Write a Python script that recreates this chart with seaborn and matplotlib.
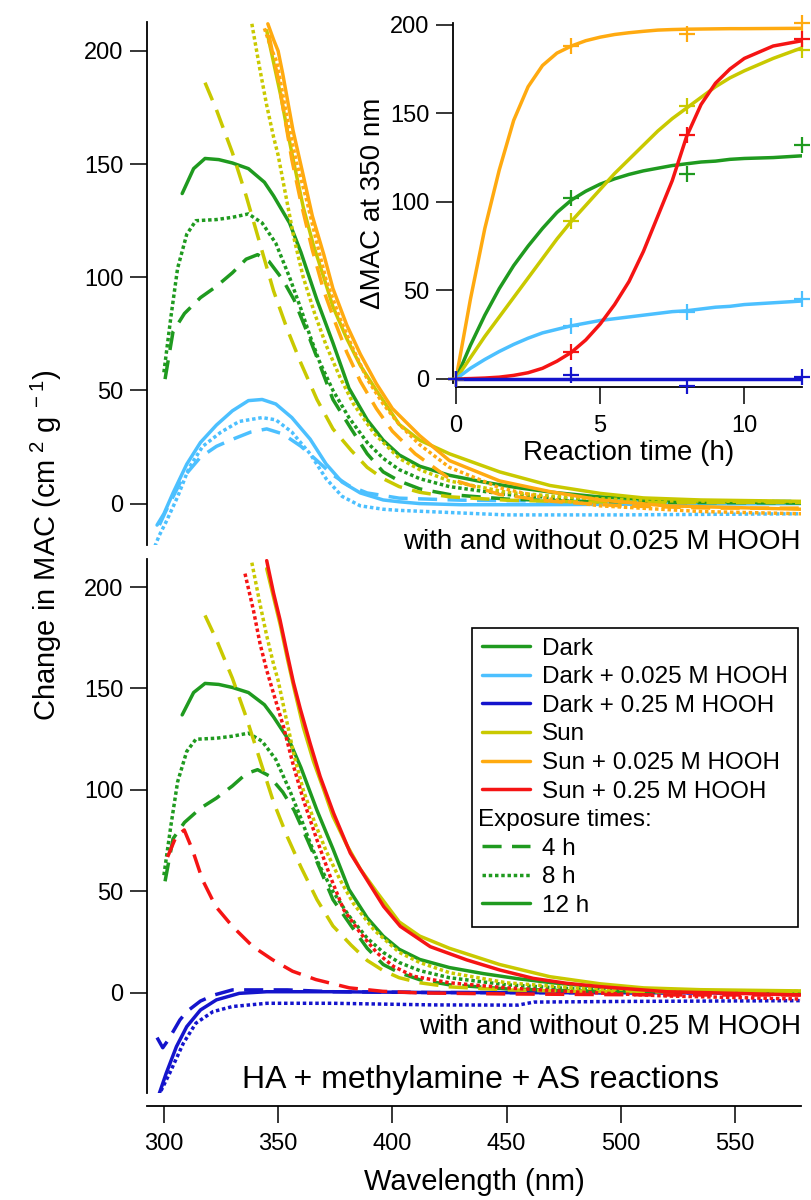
import matplotlib
matplotlib.use("Agg")
import matplotlib.pyplot as plt
from matplotlib.lines import Line2D
import seaborn as sns

# ---- spectra: change in MAC vs wavelength (nm) ----
# Dark
dark4_wl = [300.5, 304, 309, 316, 323, 330, 336, 341, 346, 352, 357, 363, 368, 374, 382, 389, 396, 403, 412, 425, 450, 480, 520, 579]
dark4 = [55, 76, 84, 91, 96, 102, 108, 110, 107, 99, 90, 75, 62, 46, 33, 22, 14, 10, 6.5, 4, 2, 1, 0.5, 0.3]
dark8_wl = [300, 301, 303, 306, 310, 314, 323, 330, 337, 343, 349, 355, 360, 364, 368, 374, 381, 389, 396, 403, 412, 425, 450, 480, 520, 579]
dark8 = [58, 66, 82, 104, 119, 125, 125.5, 126.5, 128, 124, 115, 100, 86, 74, 63, 50, 38, 27, 20, 15, 11, 7.5, 4, 2, 1, 0.5]
dark12_wl = [308, 313, 318, 324, 330, 337, 344, 348, 355, 360, 367, 374, 381, 389, 396, 403, 412, 425, 440, 455, 470, 490, 510, 535, 555, 579]
dark12 = [137, 148, 152.5, 152, 150.5, 148, 142, 136, 124, 111, 90, 71, 51, 37, 28, 21.5, 16.5, 12.5, 9.5, 7, 5, 3, 2, 1, 0.6, 0.4]

# Dark + 0.025 M HOOH
dk025_4_wl = [298, 301, 308, 316, 323, 330, 338, 345, 352, 360, 367, 374, 381, 389, 403, 430, 480, 579]
dk025_4 = [-9.5, -3, 11, 20.5, 25.3, 28.4, 31.6, 33, 30.8, 25.3, 19, 12.6, 7.9, 4.7, 2.4, 1.5, 1, 1]
dk025_8_wl = [296, 298, 301, 306, 311, 317, 325, 333, 343, 349, 356, 364, 371, 378, 386, 396, 403, 450, 500, 579]
dk025_8 = [-19, -14, -8, 3, 15.8, 25.3, 31.6, 36.3, 38, 37, 31.6, 22, 11, 3.2, -1, -2.5, -3, -5, -5, -4.5]
dk025_12_wl = [297, 300, 304, 310, 316, 323, 330, 337, 343, 349, 356, 364, 371, 378, 386, 396, 403, 412, 430, 460, 500, 579]
dk025_12 = [-9.5, -4.5, 4.7, 17.4, 27, 34.7, 41, 45.5, 46, 44, 38, 28.5, 17.5, 9.5, 4.7, 1.6, 0.8, 0, -0.5, -0.5, -0.3, 0]

# Dark + 0.25 M HOOH
dk25_4_wl = [297, 299.5, 302, 307, 310, 316, 322, 330, 341, 354, 374, 418, 579]
dk25_4 = [-22, -27, -23, -13.3, -9.2, -4, -1, 1.5, 1.5, 1.5, 0.6, 0.2, 0]
dk25_8_wl = [297.5, 302.5, 308.5, 314, 321.5, 330, 345, 374, 418, 455, 462, 500, 579]
dk25_8 = [-51, -39.6, -24.8, -14.9, -9.2, -6.7, -5.1, -5.1, -5.9, -6, -4.5, -4.2, -3.8]
dk25_12_wl = [298, 301, 305.5, 310, 316, 323, 333, 345, 374, 418, 579]
dk25_12 = [-49.5, -39.6, -26.4, -16.6, -8.4, -3.4, -0.2, 0.6, 0.6, 0.2, 0]

# Sun
sun4_wl = [318, 323, 330, 336, 342, 348, 354, 360, 367, 374, 382, 389, 396, 403, 412, 425, 450, 480, 520, 579]
sun4 = [186, 174, 155, 136, 115, 94, 77, 62, 46, 33, 23.5, 16, 11, 7.5, 5, 3, 1.5, 0.8, 0.5, 0.5]
sun8_wl = [338.5, 342, 345, 348, 350, 353, 357, 361, 366, 371, 377, 383, 392, 403, 412, 425, 450, 480, 520, 579]
sun8 = [212, 192, 176, 162, 154, 138, 117, 100, 84, 70, 56, 44, 31, 20, 15, 10, 5, 2.5, 1.2, 0.8]
sun12_wl = [345, 348, 351, 354, 357, 361, 365.5, 370, 374, 380, 386, 393, 403, 412, 425, 447, 469, 491, 510, 535, 579]
sun12 = [209, 195, 181, 165, 150, 131, 114, 100, 87, 73, 61, 50, 35, 28, 22, 14, 8, 4.5, 2.5, 1.6, 1]

# Sun + 0.025 M HOOH
or4_wl = [346, 348, 350, 353, 356, 360, 365, 370, 375, 380, 386, 393, 400, 410, 425, 447, 470, 500, 540, 579]
or4 = [207, 197, 188, 170, 152, 133, 112, 94, 80, 67, 54, 42, 32, 22, 11, 4, 1, -1, -2, -2]
or8_wl = [344, 347, 349.5, 354, 358, 362.5, 367, 371, 377, 383, 389, 396, 403, 412, 425, 447, 469, 491, 535, 579]
or8 = [210, 201, 195, 170, 151, 134, 115, 99, 82, 68, 55, 44, 35, 26, 16, 7, 2, -1, -3.5, -4.5]
or12_wl = [345.5, 348, 350, 352, 356.5, 361, 365, 370, 374, 380, 386, 393, 400, 412, 425, 447, 469, 491, 520, 579]
or12 = [212, 205, 200, 190, 165, 145, 127, 110, 95, 79, 66, 53, 42, 30, 19, 10, 5.3, 1.6, -1, -2.5]

# Sun + 0.25 M HOOH
red4_wl = [301.6, 305.3, 308.9, 312.5, 316.9, 322.7, 330, 338.8, 347.5, 356.3, 366.5, 381.2, 395.8, 412, 450, 520, 579]
red4 = [67, 77, 80.3, 70.5, 55.7, 42.6, 32.8, 23, 16.4, 10.7, 6.6, 2.5, 0.8, 0, -0.5, -1, -1]
red8_wl = [335.5, 339.2, 342.1, 345, 348, 352.4, 356.8, 361.1, 367, 372.8, 378.7, 386, 393.3, 400.6, 409.4, 425, 450, 480, 520, 579]
red8 = [206.6, 188.5, 172, 159, 147.5, 131, 111.5, 95, 75.4, 57.4, 41, 29.5, 19.7, 13, 8.2, 5, 2.5, 0.5, -1.5, -3]
red12_wl = [345, 348, 350.8, 353.8, 356.7, 359.7, 364, 368.4, 374.3, 381.6, 388.9, 396.2, 403.5, 416.6, 432.5, 447, 461.6, 476, 491, 520, 579]
red12 = [213, 197, 184, 168, 153, 140, 123, 106.6, 88.5, 68.9, 55.7, 42.6, 32.8, 22.8, 16.3, 11.3, 7.2, 4.8, 3.1, 0.6, -1]

# ---- inset: change in MAC at 350 nm vs reaction time (h) ----
time_pts = [0, 4, 8, 12]
pts_dark = [0, 102, 116, 132]
pts_dk025 = [0, 30, 38, 45]
pts_dk25 = [0, 2, -4, 1]
pts_sun = [0, 89, 154, 186]
pts_or = [0, 188, 195, 201]
pts_red = [0, 15, 138, 192]

fit_t = [0, 0.5, 1, 1.5, 2, 2.5, 3, 3.5, 4, 4.5, 5, 5.5, 6, 6.5, 7, 7.5, 8, 8.5, 9, 9.5, 10, 11, 12]
fit_dark = [0, 19, 36, 51, 64, 75, 85, 94, 101, 106, 110, 113, 115.5, 117.5, 119, 120.5, 121.5, 122.5, 123, 124, 124.5, 125, 126]
fit_dk025 = [0, 6, 11, 15.5, 19.5, 23, 26, 28, 30, 31.5, 33, 34, 35, 36, 37, 38, 38.5, 39.5, 40.5, 41, 42, 43, 44]
fit_dk25 = [0] * 23
fit_sun = [0, 12, 24, 35, 46, 57, 68, 79, 89, 98, 107, 116, 124, 132, 140, 147, 153, 159, 165, 170, 174, 181, 187]
fit_or = [0, 45, 85, 118, 146, 165, 177, 184, 188, 191, 193, 194.5, 195.5, 196.3, 197, 197.3, 197.5, 197.6, 197.7, 197.8, 197.8, 197.9, 198]
fit_red = [0, 0.2, 0.5, 1, 2, 3.5, 6, 10, 15, 22, 31, 42, 55, 72, 92, 112, 137, 155, 167, 175, 181, 188, 191]

# colours
GREEN = "#1f9a1f"
LIGHTBLUE = "#4cc0ff"
BLUE = "#1414cc"
SUN = "#c9c900"
ORANGE = "#ffaa10"
RED = "#f51414"

DASH = (0, (5.5, 3))
DOT = (0, (1, 0.8))
SOLID = "-"
LW = 2.5

sns.set_style("ticks")
plt.rcParams["font.family"] = ["Liberation Sans", "DejaVu Sans"]
plt.rcParams["mathtext.fontset"] = "custom"
plt.rcParams["mathtext.rm"] = "Liberation Sans"
plt.rcParams["mathtext.it"] = "Liberation Sans:italic"
plt.rcParams["axes.edgecolor"] = "black"
plt.rcParams["xtick.color"] = "black"
plt.rcParams["ytick.color"] = "black"
plt.rcParams["text.color"] = "black"
plt.rcParams["axes.labelcolor"] = "black"

W, H = 812, 1200
fig = plt.figure(figsize=(W / 100, H / 100), dpi=100)
ax_top = fig.add_axes([147 / W, 1 - 545 / H, 654 / W, 523 / H])
ax_bot = fig.add_axes([147 / W, 1 - 1093 / H, 654 / W, 534 / H])
ax_in = fig.add_axes([456 / W, 1 - 383 / H, 346 / W, 360 / H])


def curve(ax, x, y, color, ls):
    sns.lineplot(x=x, y=y, ax=ax, color=color, linestyle=ls, lw=LW,
                 errorbar=None, sort=False)


# top panel: with and without 0.025 M HOOH
for wl, v, c, ls in [
    (dk025_4_wl, dk025_4, LIGHTBLUE, DASH), (dk025_8_wl, dk025_8, LIGHTBLUE, DOT),
    (dk025_12_wl, dk025_12, LIGHTBLUE, SOLID),
    (dark4_wl, dark4, GREEN, DASH), (dark8_wl, dark8, GREEN, DOT), (dark12_wl, dark12, GREEN, SOLID),
    (sun4_wl, sun4, SUN, DASH), (sun8_wl, sun8, SUN, DOT), (sun12_wl, sun12, SUN, SOLID),
    (or4_wl, or4, ORANGE, DASH), (or8_wl, or8, ORANGE, DOT), (or12_wl, or12, ORANGE, SOLID),
]:
    curve(ax_top, wl, v, c, ls)

# bottom panel: with and without 0.25 M HOOH
for wl, v, c, ls in [
    (dk25_4_wl, dk25_4, BLUE, DASH), (dk25_8_wl, dk25_8, BLUE, DOT), (dk25_12_wl, dk25_12, BLUE, SOLID),
    (dark4_wl, dark4, GREEN, DASH), (dark8_wl, dark8, GREEN, DOT), (dark12_wl, dark12, GREEN, SOLID),
    (sun4_wl, sun4, SUN, DASH), (sun8_wl, sun8, SUN, DOT), (sun12_wl, sun12, SUN, SOLID),
    (red4_wl, red4, RED, DASH), (red8_wl, red8, RED, DOT), (red12_wl, red12, RED, SOLID),
]:
    curve(ax_bot, wl, v, c, ls)

for ax in (ax_top, ax_bot):
    ax.set_xlim(292.6, 578.9)
    ax.set_yticks([0, 50, 100, 150, 200])
    ax.spines["top"].set_visible(False)
    ax.spines["right"].set_visible(False)
    ax.spines["left"].set_linewidth(1.3)
    ax.spines["bottom"].set_linewidth(1.3)
    ax.tick_params(direction="out", length=12, width=1.1, labelsize=17, pad=5)
    ax.set_facecolor("none")
    ax.set_xlabel("")
    ax.set_ylabel("")

ax_top.set_ylim(-18.3, 212.8)
ax_top.spines["bottom"].set_visible(False)
ax_top.tick_params(axis="x", bottom=False, labelbottom=False)

ax_bot.set_ylim(-49.3, 213.8)
ax_bot.spines["bottom"].set_position(("outward", 9))
ax_bot.set_xticks([300, 350, 400, 450, 500, 550])
ax_bot.tick_params(axis="x", pad=8)
ax_bot.set_xlabel("Wavelength (nm)", fontsize=21, labelpad=9)

# inset
for t, v, c in [(fit_or, pts_or, ORANGE), (fit_dark, pts_dark, GREEN), (fit_sun, pts_sun, SUN),
                (fit_dk025, pts_dk025, LIGHTBLUE), (fit_red, pts_red, RED), (fit_dk25, pts_dk25, BLUE)]:
    sns.lineplot(x=fit_t, y=t, ax=ax_in, color=c, lw=LW, errorbar=None, sort=False)
    sns.scatterplot(x=time_pts, y=v, ax=ax_in, color=c, marker="+", s=130, linewidth=1.6,
                    zorder=5, clip_on=False)

ax_in.set_xlim(0, 12)
ax_in.set_ylim(-2.3, 201)
ax_in.set_xticks([0, 5, 10])
ax_in.set_yticks([0, 50, 100, 150, 200])
ax_in.set_facecolor("none")
ax_in.spines["top"].set_visible(False)
ax_in.spines["right"].set_visible(False)
ax_in.spines["left"].set_position(("outward", 2))
ax_in.spines["bottom"].set_position(("outward", 3))
ax_in.spines["left"].set_linewidth(1.3)
ax_in.spines["bottom"].set_linewidth(1.3)
ax_in.tick_params(direction="out", length=12, width=1.1, labelsize=17, pad=5)
ax_in.tick_params(axis="x", pad=8)
ax_in.set_xlabel("Reaction time (h)", fontsize=20, labelpad=2)
ax_in.set_ylabel("\u0394MAC at 350 nm", fontsize=20, labelpad=3)

# texts
fig.text(46 / W, 1 - 545 / H, r"Change in MAC (cm$^{\,\,2}$ g$^{\,\,-1}$)", rotation=90,
         ha="center", va="center", fontsize=21)
fig.text(801 / W, 1 - 542 / H, "with and without 0.025 M HOOH", ha="right", va="center", fontsize=20)
fig.text(801 / W, 1 - 1027 / H, "with and without 0.25 M HOOH", ha="right", va="center", fontsize=20)
fig.text(480 / W, 1 - 1080 / H, "HA + methylamine + AS reactions", ha="center", va="center", fontsize=23)

# legend
handles = [
    Line2D([], [], color=GREEN, lw=LW),
    Line2D([], [], color=LIGHTBLUE, lw=LW),
    Line2D([], [], color=BLUE, lw=LW),
    Line2D([], [], color=SUN, lw=LW),
    Line2D([], [], color=ORANGE, lw=LW),
    Line2D([], [], color=RED, lw=LW),
    Line2D([], [], color="none", lw=0),
    Line2D([], [], color=GREEN, lw=LW, linestyle=DASH),
    Line2D([], [], color=GREEN, lw=LW, linestyle=DOT),
    Line2D([], [], color=GREEN, lw=LW),
]
labels = ["Dark", "Dark + 0.025 M HOOH", "Dark + 0.25 M HOOH", "Sun", "Sun + 0.025 M HOOH",
          "Sun + 0.25 M HOOH", "Exposure times:", "4 h", "8 h", "12 h"]
leg = ax_bot.legend(handles, labels, loc="upper right", bbox_to_anchor=(798 / W, 1 - 628 / H),
                    bbox_transform=fig.transFigure, borderaxespad=0, fontsize=17.5,
                    handlelength=2.0, handletextpad=0.5, labelspacing=0.27, borderpad=0.4,
                    fancybox=False, framealpha=1, edgecolor="black")
leg.get_frame().set_linewidth(1.2)
leg.get_texts()[6].set_x(-64)

fig.savefig("out.png", dpi=100)
